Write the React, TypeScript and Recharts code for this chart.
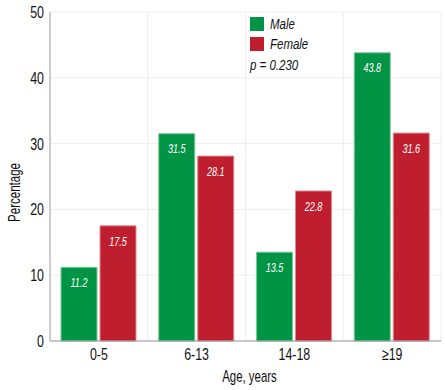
import React from "react";
import { BarChart, Bar, XAxis, YAxis, CartesianGrid, Legend, LabelList } from "recharts";

const categories = ["0-5", "6-13", "14-18", "\u226519"];
const maleValues = [11.2, 31.5, 13.5, 43.8];
const femaleValues = [17.5, 28.1, 22.8, 31.6];
const yTicks = [0, 10, 20, 30, 40, 50];
const seriesNames = ["Male", "Female"];
const pText = "p = 0.230";

const data = categories.map((c, i) => ({ age: c, male: maleValues[i], female: femaleValues[i] }));

const FONT = "'Liberation Sans', Arial, sans-serif";
const SX = 0.75;
const GREEN = "#009444";
const RED = "#BE1E2D";
const TEXT = "#111";

const XTick = (props: any) => {
  const { x, y, payload } = props;
  return (
    <g transform={`translate(${x},${y})`}>
      <text transform={`scale(${SX},1)`} textAnchor="middle" dy="0.75em" fontSize={16.5} fontFamily={FONT} fill={TEXT}>
        {payload.value}
      </text>
    </g>
  );
};

const YTick = (props: any) => {
  const { x, y, payload } = props;
  return (
    <g transform={`translate(${x},${y})`}>
      <text transform={`scale(${SX},1)`} textAnchor="end" dy="0.36em" fontSize={16.5} fontFamily={FONT} fill={TEXT}>
        {payload.value}
      </text>
    </g>
  );
};

const YLabel = (props: any) => {
  const vb = props.viewBox || {};
  const cx = vb.x + 14;
  const cy = vb.y + vb.height / 2 + 16;
  return (
    <g transform={`translate(${cx},${cy}) rotate(-90) scale(0.72,1)`}>
      <text textAnchor="middle" dy="0.35em" fontSize={16} fontFamily={FONT} fill={TEXT}>
        Percentage
      </text>
    </g>
  );
};

const XLabel = (props: any) => {
  const vb = props.viewBox || {};
  const cx = vb.x + vb.width / 2 + 4;
  const cy = vb.y + vb.height - 8;
  return (
    <g transform={`translate(${cx},${cy}) scale(0.715,1)`}>
      <text textAnchor="middle" fontSize={16} fontFamily={FONT} fill={TEXT}>
        Age, years
      </text>
    </g>
  );
};

const BarValue = (props: any) => {
  const { x, y, width, value } = props;
  return (
    <g transform={`translate(${x + width / 2},${y + 15})`}>
      <text transform="scale(0.7,1)" textAnchor="middle" dy="0.36em" fontSize={13} fontStyle="italic" fontFamily={FONT} fill="#fff">
        {value}
      </text>
    </g>
  );
};

const renderLegend = () => {
  const colors = [GREEN, RED];
  const textStyle: React.CSSProperties = {
    display: "inline-block",
    transform: `scaleX(0.74)`,
    transformOrigin: "left center",
    whiteSpace: "nowrap",
  };
  return (
    <div style={{ fontFamily: FONT, fontStyle: "italic", fontSize: 15.5, color: TEXT, lineHeight: "20px" }}>
      {seriesNames.map((n, i) => (
        <div key={n} style={{ display: "flex", alignItems: "center", height: 20 }}>
          <span style={{ width: 14, height: 14, background: colors[i], display: "inline-block", marginRight: 6, flex: "none" }} />
          <span style={textStyle}>{n}</span>
        </div>
      ))}
      <div style={{ height: 20, marginTop: 1 }}>
        <span style={textStyle}>{pText}</span>
      </div>
    </div>
  );
};

export default function App() {
  return (
    <div style={{ position: "absolute", left: 0, top: 0, background: "#fff" }}>
      <BarChart
        width={445}
        height={390}
        data={data}
        margin={{ top: 12, right: 4, bottom: 0, left: 0 }}
        barCategoryGap={11}
        barGap={3}
      >
        <CartesianGrid
          stroke="#eeeeee"
          verticalCoordinatesGenerator={({ offset }: any) =>
            categories.map((_, i) => offset.left + (offset.width * (i + 1)) / categories.length)
          }
        />
        <XAxis
          dataKey="age"
          height={49}
          stroke="#999"
          tickLine={false}
          tick={<XTick />}
          tickMargin={1}
          label={<XLabel />}
        />
        <YAxis
          width={50}
          domain={[0, 50]}
          ticks={yTicks}
          stroke="#999"
          tickLine={false}
          tickMargin={0}
          tick={<YTick />}
          label={<YLabel />}
        />
        <Legend
          layout="vertical"
          verticalAlign="middle"
          align="center"
          content={renderLegend}
          wrapperStyle={{ left: 250, top: 13.5, width: 110 }}
        />
        <Bar dataKey="male" name="Male" fill={GREEN} stroke="#7cc79b" strokeWidth={1} isAnimationActive={false}>
          <LabelList dataKey="male" content={<BarValue />} />
        </Bar>
        <Bar dataKey="female" name="Female" fill={RED} stroke="#dc8a92" strokeWidth={1} isAnimationActive={false}>
          <LabelList dataKey="female" content={<BarValue />} />
        </Bar>
      </BarChart>
    </div>
  );
}
